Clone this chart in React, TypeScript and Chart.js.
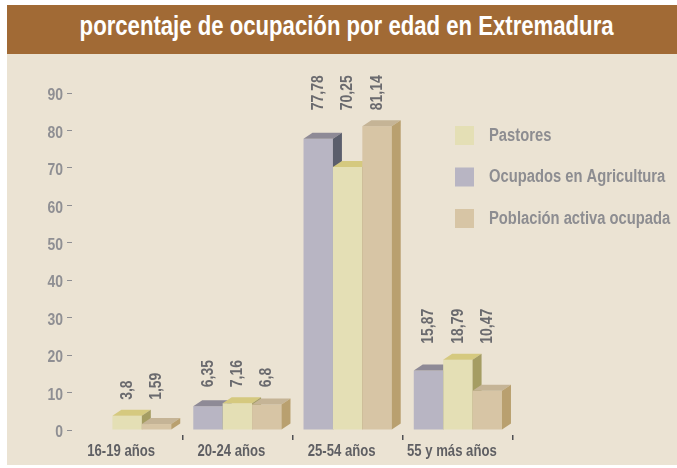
import React, { useEffect, useRef } from 'react';
import { Chart, registerables } from 'chart.js';

Chart.register(...registerables);

const chartTitle = 'porcentaje de ocupación por edad en Extremadura';
const categories = ['16-19 años', '20-24 años', '25-54 años', '55 y más años'];
const seriesNames = ['Ocupados en Agricultura', 'Pastores', 'Población activa ocupada'];
const ocupadosAgricultura: (number | null)[] = [null, 6.35, 77.78, 15.87];
const pastores: (number | null)[] = [3.8, 7.16, 70.25, 18.79];
const poblacionActiva: (number | null)[] = [1.59, 6.8, 81.14, 10.47];
const legendOrder = [1, 0, 2];
const yTicks = [0, 10, 20, 30, 40, 50, 60, 70, 80, 90];

const FRONT = ['#b8b5c3', '#e4dfb5', '#d7c5a5'];
const TOP = ['#8e8a96', '#d5c97f', '#c5b496'];
const SIDE = ['#5b5e6c', '#a59d63', '#b9a06f'];
const FONT = "'Liberation Sans', Arial, sans-serif";
const CONDENSE = 0.82;

const W = 670;
const H = 411;
const DX = 9;
const DY = 6;

const fmt = (v: number) => String(v).replace('.', ',');

function condensedText(
  ctx: CanvasRenderingContext2D,
  text: string,
  x: number,
  y: number,
  align: CanvasTextAlign,
  rotate = 0
) {
  ctx.save();
  ctx.translate(x, y);
  if (rotate) ctx.rotate(rotate);
  ctx.scale(CONDENSE, 1);
  ctx.textAlign = align;
  ctx.textBaseline = 'middle';
  ctx.fillText(text, 0, 0);
  ctx.restore();
}

const bars3d = {
  id: 'bars3d',
  afterDatasetsDraw(chart: any) {
    const ctx = chart.ctx as CanvasRenderingContext2D;
    const nDs = chart.data.datasets.length;
    ctx.save();
    for (let j = 0; j < categories.length; j++) {
      let groupTop = Infinity;
      const centers: { x: number; v: number }[] = [];
      for (let i = 0; i < nDs; i++) {
        const v = chart.data.datasets[i].data[j];
        const el = chart.getDatasetMeta(i).data[j];
        if (v == null || !el) continue;
        const p = el.getProps(['x', 'y', 'base', 'width'], true);
        const x0 = p.x - p.width / 2;
        const x1 = p.x + p.width / 2;
        const yt = p.y;
        const yb = p.base;
        ctx.fillStyle = FRONT[i];
        ctx.fillRect(x0, yt, x1 - x0, yb - yt);
        ctx.fillStyle = TOP[i];
        ctx.beginPath();
        ctx.moveTo(x0, yt);
        ctx.lineTo(x1, yt);
        ctx.lineTo(x1 + DX, yt - DY);
        ctx.lineTo(x0 + DX, yt - DY);
        ctx.closePath();
        ctx.fill();
        ctx.fillStyle = SIDE[i];
        ctx.beginPath();
        ctx.moveTo(x1, yt);
        ctx.lineTo(x1 + DX, yt - DY);
        ctx.lineTo(x1 + DX, yb - DY);
        ctx.lineTo(x1, yb);
        ctx.closePath();
        ctx.fill();
        groupTop = Math.min(groupTop, yt);
        centers.push({ x: p.x, v: v as number });
      }
      ctx.fillStyle = '#6a6a6e';
      ctx.font = `bold 17px ${FONT}`;
      for (const c of centers) {
        condensedText(ctx, fmt(c.v), c.x, groupTop - 16, 'left', -Math.PI / 2);
      }
    }
    ctx.restore();
  },
  afterDraw(chart: any) {
    const ctx = chart.ctx as CanvasRenderingContext2D;
    const xs = chart.scales.x;
    const ys = chart.scales.y;
    ctx.save();
    // y axis labels
    ctx.fillStyle = '#8f8f93';
    ctx.font = `bold 17px ${FONT}`;
    ys.ticks.forEach((t: any) => {
      condensedText(ctx, String(t.value), xs.left - 9, ys.getPixelForValue(t.value) + 2.5, 'right');
    });
    // x axis labels
    ctx.fillStyle = '#5f5f63';
    ctx.font = `bold 16px ${FONT}`;
    chart.data.labels.forEach((lab: string, i: number) => {
      condensedText(ctx, lab, xs.getPixelForValue(i) - 6, ys.bottom + 17, 'center');
    });
    // legend
    ctx.font = `bold 18px ${FONT}`;
    legendOrder.forEach((dsIndex, k) => {
      const y = 72 + k * 41.5;
      ctx.fillStyle = FRONT[dsIndex];
      ctx.fillRect(448, y, 19, 19);
      ctx.fillStyle = '#8d8d91';
      condensedText(ctx, chart.data.datasets[dsIndex].label, 482, y + 10, 'left');
    });
    ctx.restore();
  },
};

function ChartCanvas() {
  const ref = useRef<HTMLCanvasElement | null>(null);
  useEffect(() => {
    if (!ref.current) return;
    Chart.defaults.font.family = FONT;
    const series = [ocupadosAgricultura, pastores, poblacionActiva];
    const chart = new Chart(ref.current, {
      type: 'bar',
      data: {
        labels: categories,
        datasets: series.map((d, i) => ({
          label: seriesNames[i],
          data: d,
          backgroundColor: 'rgba(0,0,0,0)',
          borderWidth: 0,
          categoryPercentage: 0.8,
          barPercentage: 1,
        })),
      },
      options: {
        animation: false,
        responsive: false,
        devicePixelRatio: 1,
        events: [],
        layout: { padding: { top: 39, right: 164, left: 0, bottom: 0 } },
        plugins: {
          legend: { display: false },
          tooltip: { enabled: false },
          title: { display: false },
        },
        scales: {
          x: {
            offset: true,
            border: { display: false },
            grid: {
              offset: true,
              drawOnChartArea: false,
              drawTicks: true,
              tickLength: 5,
              lineWidth: 1.5,
              color: (c: any) => (c.index === 0 ? 'rgba(0,0,0,0)' : '#505054'),
            },
            ticks: { display: false },
            afterFit: (s: any) => {
              s.height = 30;
            },
          },
          y: {
            min: -1.335,
            max: yTicks[yTicks.length - 1],
            border: { display: false },
            grid: {
              drawOnChartArea: false,
              drawTicks: true,
              tickLength: 5,
              color: '#8f8f93',
            },
            ticks: { display: false },
            afterBuildTicks: (s: any) => {
              s.ticks = yTicks.map((v) => ({ value: v }));
            },
            afterFit: (s: any) => {
              s.width = 65;
            },
          },
        },
      },
      plugins: [bars3d],
    } as any);
    return () => chart.destroy();
  }, []);
  return <canvas ref={ref} width={W} height={H} style={{ display: 'block', width: W, height: H }} />;
}

export default function App() {
  useEffect(() => {
    document.body.style.margin = '0';
  }, []);
  return (
    <div style={{ position: 'relative', width: 677, height: 468, background: '#ffffff', overflow: 'hidden' }}>
      <div
        style={{
          position: 'absolute',
          left: 7,
          top: 5,
          width: 660,
          paddingLeft: 10,
          height: 49,
          background: '#a16a35',
          color: '#ffffff',
          lineHeight: '49px',
          textAlign: 'center',
          whiteSpace: 'nowrap',
        }}
      >
        <span
          style={{
            display: 'inline-block',
            font: `bold 27px ${FONT}`,
            transform: `scaleX(${CONDENSE})`,
            transformOrigin: 'center',
          }}
        >
          {chartTitle}
        </span>
      </div>
      <div style={{ position: 'absolute', left: 7, top: 54, width: W, height: H, background: '#ebe3d3' }}>
        <ChartCanvas />
      </div>
    </div>
  );
}
